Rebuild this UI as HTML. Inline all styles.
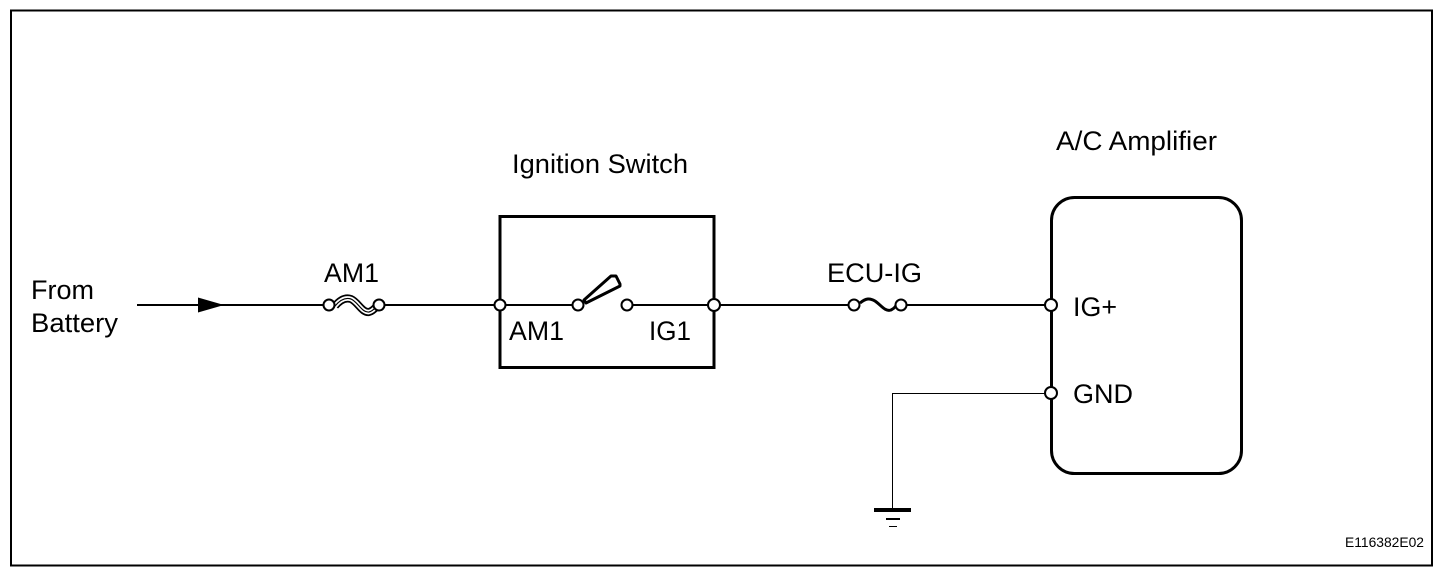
<!DOCTYPE html>
<html>
<head>
<meta charset="utf-8">
<style>
html,body{margin:0;padding:0;background:#fff;width:1456px;height:578px;overflow:hidden}
svg{display:block}
text{font-family:"Liberation Sans",sans-serif;font-size:27px;fill:#000}
</style>
</head>
<body>
<svg width="1456" height="578" viewBox="0 0 1456 578" xmlns="http://www.w3.org/2000/svg">
<rect x="11" y="10.500" width="1421" height="555" fill="none" stroke="#000" stroke-width="2"/>
<!-- wires -->
<path d="M137 305H329M379 305H499M499 305H578M627 305H714M714 305H854M901 305H1051" fill="none" stroke="#000" stroke-width="2"/>
<path d="M1051 393.500H892.500V509" fill="none" stroke="#000" stroke-width="1"/>
<!-- arrow -->
<path d="M198 297.500L224 305L198 312.500Z" fill="#000"/>
<!-- AM1 fuse -->
<path d="M335 306C340 300 345 297 351 299C358 302 362 313 369 312C373 311 375 308 377 306" fill="none" stroke="#000" stroke-width="8"/>
<path d="M335 306C340 300 345 297 351 299C358 302 362 313 369 312C373 311 375 308 377 306" fill="none" stroke="#fff" stroke-width="4.500"/>
<path d="M335 306C340 300 345 297 351 299C358 302 362 313 369 312C373 311 375 308 377 306" fill="none" stroke="#000" stroke-width="1.200"/>
<!-- ignition box -->
<rect x="500" y="216.500" width="214" height="151" fill="none" stroke="#000" stroke-width="3"/>
<!-- switch blade -->
<path d="M584 300L611 276L616 276L620 284L620 286L586 303Z" fill="#fff" stroke="#000" stroke-width="3" stroke-linejoin="round"/>
<!-- ECU-IG fuse -->
<path d="M860 303C866 298 870 298 875 301C881 305 885 312 891 310C895 308 896 306 897 303" fill="none" stroke="#000" stroke-width="3"/>
<!-- amp box -->
<rect x="1051.500" y="197.500" width="190" height="276" rx="23" ry="23" fill="none" stroke="#000" stroke-width="3"/>
<!-- ground -->
<rect x="874" y="508" width="37" height="4" fill="#000"/>
<rect x="886" y="518" width="14" height="2" fill="#000"/>
<rect x="889" y="526" width="8" height="1" fill="#000"/>
<!-- terminals -->
<g fill="#fff" stroke="#000" stroke-width="2">
<circle cx="329" cy="305" r="5.500"/>
<circle cx="379" cy="305" r="5.500"/>
<circle cx="500" cy="305" r="5.500"/>
<circle cx="578" cy="305" r="5.500"/>
<circle cx="627" cy="305" r="5.500"/>
<circle cx="714" cy="305" r="6"/>
<circle cx="854" cy="305" r="5.500"/>
<circle cx="901" cy="305" r="5.500"/>
<circle cx="1051" cy="305" r="6"/>
<circle cx="1051" cy="393" r="6"/>
</g>
<!-- labels -->
<text x="31" y="299" textLength="63" lengthAdjust="spacingAndGlyphs">From</text>
<text x="31" y="332" textLength="87" lengthAdjust="spacingAndGlyphs">Battery</text>
<text x="324" y="282" textLength="55" lengthAdjust="spacingAndGlyphs">AM1</text>
<text x="512" y="173" textLength="176" lengthAdjust="spacingAndGlyphs">Ignition Switch</text>
<text x="509" y="340" textLength="55" lengthAdjust="spacingAndGlyphs">AM1</text>
<text x="649" y="340" textLength="42" lengthAdjust="spacingAndGlyphs">IG1</text>
<text x="827" y="282" textLength="95" lengthAdjust="spacingAndGlyphs">ECU-IG</text>
<text x="1056" y="150" textLength="161" lengthAdjust="spacingAndGlyphs">A/C Amplifier</text>
<text x="1073" y="316" textLength="44" lengthAdjust="spacingAndGlyphs">IG+</text>
<text x="1073" y="403" textLength="60" lengthAdjust="spacingAndGlyphs">GND</text>
<text x="1345" y="547" style="font-size:14px" textLength="79" lengthAdjust="spacingAndGlyphs">E116382E02</text>
</svg>
</body>
</html>
